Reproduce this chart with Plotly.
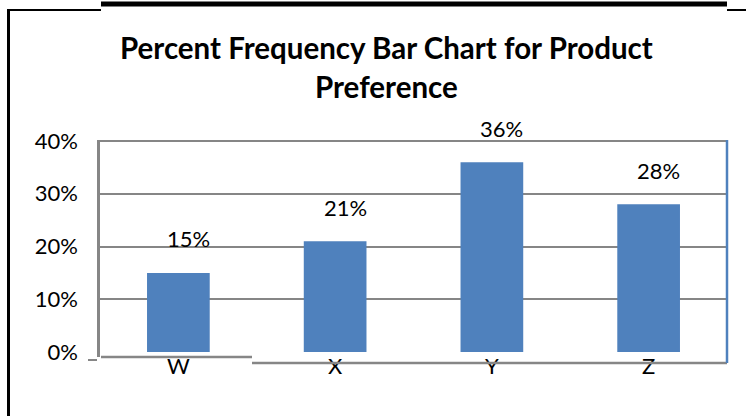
import plotly.graph_objects as go

categories = ["W", "X", "Y", "Z"]
percent_values = [15, 21, 36, 28]
tick_values = [0, 10, 20, 30, 40]
tick_labels = ["0%", "10%", "20%", "30%", "40%"]
grid_values = [10, 20, 30, 40]
title_lines = ["Percent Frequency Bar Chart for Product", "Preference"]

W, H = 746, 416
ML, MR, MT, MB = 100, 19, 140, 59
PW, PH = W - ML - MR, H - MT - MB


def px(x):
    return (x - ML) / PW


def py(y):
    return (H - MB - y) / PH


FONT = "Lato, 'Open Sans', sans-serif"
GRAY = "#868686"
BLUE = "#4F81BD"

fig = go.Figure(
    go.Bar(
        x=categories,
        y=percent_values,
        marker=dict(color=BLUE, line=dict(width=0)),
        hoverinfo="skip",
    )
)

annotations = []
for c, v in zip(categories, percent_values):
    annotations.append(dict(
        x=c, y=v, xref="x", yref="y", text=f"{v}%", showarrow=False,
        yanchor="middle", yshift=34, xshift=10,
        font=dict(family=FONT, size=22, color="#000"),
    ))
for i, (line, ypix) in enumerate(zip(title_lines, [47, 86])):
    annotations.append(dict(
        x=px(386), y=py(ypix), xref="paper", yref="paper", text=f"<b>{line}</b>",
        showarrow=False, xanchor="center", yanchor="middle",
        font=dict(family=FONT, size=29.5, color="#000"),
    ))

shapes = [
    # frame pieces
    dict(type="line", xref="paper", yref="paper", x0=px(8.5), x1=px(8.5), y0=py(9), y1=py(420),
         line=dict(color="#000", width=3)),
    dict(type="line", xref="paper", yref="paper", x0=px(7), x1=px(101), y0=py(10), y1=py(10),
         line=dict(color="#000", width=2)),
    dict(type="line", xref="paper", yref="paper", x0=px(101), x1=px(727), y0=py(4), y1=py(4),
         line=dict(color="#000", width=5)),
    dict(type="line", xref="paper", yref="paper", x0=px(727), x1=px(750), y0=py(10), y1=py(10),
         line=dict(color="#000", width=2)),
    # category axis baseline (two segments)
    dict(type="line", xref="paper", yref="paper", x0=px(101), x1=px(252), y0=py(357), y1=py(357),
         line=dict(color=GRAY, width=2.5)),
    dict(type="line", xref="paper", yref="paper", x0=px(252), x1=px(727), y0=py(363), y1=py(363),
         line=dict(color=GRAY, width=2.5)),
    # small tick at axis corner
    dict(type="line", xref="paper", yref="paper", x0=px(88), x1=px(97), y0=py(360), y1=py(360),
         line=dict(color=GRAY, width=2)),
    # right border
    dict(type="line", xref="paper", yref="paper", x0=1, x1=1, y0=py(363), y1=1,
         line=dict(color=BLUE, width=2.5)),
]

fig.update_layout(
    width=W, height=H,
    margin=dict(l=ML, r=MR, t=MT, b=MB, pad=0),
    paper_bgcolor="white", plot_bgcolor="white",
    showlegend=False,
    bargap=0.6,
    annotations=annotations,
    shapes=shapes,
    font=dict(family=FONT, size=22, color="#000"),
    xaxis=dict(
        showgrid=False, zeroline=False, showline=False, ticks="",
        tickfont=dict(family=FONT, size=22, color="#000"),
        ticklabelstandoff=-6,
        fixedrange=True,
    ),
    yaxis=dict(
        range=[-0.95, 40.2],
        tickvals=tick_values, ticktext=tick_labels,
        showgrid=False, zeroline=False,
        showline=True, linecolor=GRAY, linewidth=2.5,
        ticks="", ticklabelstandoff=15,
        tickfont=dict(family=FONT, size=22, color="#000"),
        minor=dict(tickvals=grid_values, showgrid=True, gridcolor=GRAY, gridwidth=2, ticks=""),
        fixedrange=True,
    ),
)

fig.write_html(
    "out.html",
    config={"displayModeBar": False},
    post_script="document.body.style.margin='0';document.documentElement.style.margin='0';",
)
